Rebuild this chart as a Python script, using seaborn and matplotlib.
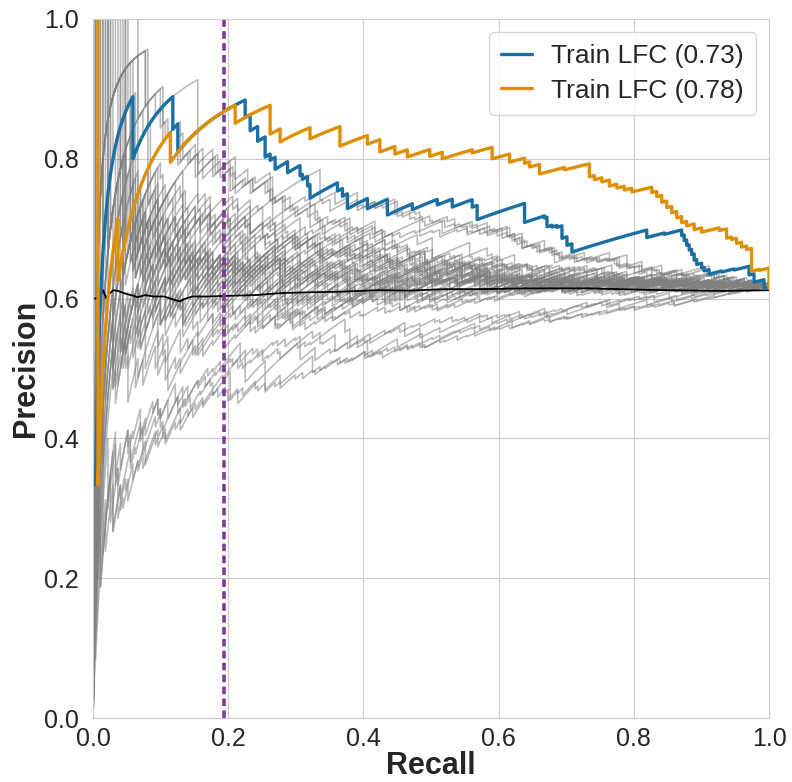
import numpy as np
import pandas as pd
import matplotlib
matplotlib.use("Agg")
import matplotlib.pyplot as plt
import seaborn as sns

sns.set_style("whitegrid")
plt.rcParams["font.family"] = ["Liberation Sans", "DejaVu Sans"]

# ---------------- data ----------------
N_POSITIVES = 271
N_ITEMS = 440

MODEL_LABELS = ["Train LFC (0.73)", "Train LFC (0.78)"]
MODEL_COLORS = ["#1b6fa3", "#de8f05"]

BLUE_RUNS = [(0, 2), (16, 2), (16, 2), (2, 2), (27, 2), (2, 2), (3, 2), (3, 3), (2, 1), (2, 2),
             (5, 2), (5, 2), (1, 1), (2, 2), (1, 3), (11, 2), (2, 2), (2, 4), (8, 3), (8, 5),
             (10, 2), (10, 2), (6, 3), (8, 3), (2, 6), (19, 9), (8, 1), (1, 5), (2, 1), (2, 1),
             (2, 7), (2, 5), (2, 5), (30, 5), (7, 1), (7, 4), (1, 4), (1, 4), (1, 4), (1, 4),
             (1, 5), (1, 4), (2, 4), (1, 3), (2, 4), (5, 1), (5, 1), (6, 8), (2, 8), (4, 9), (2, 1)]
ORANGE_RUNS = [(2, 4), (8, 2), (21, 2), (26, 2), (14, 4), (4, 2), (12, 2), (12, 4), (11, 2), (5, 3),
               (6, 2), (5, 2), (9, 2), (5, 2), (12, 1), (8, 4), (7, 3), (6, 2), (2, 2), (4, 4),
               (10, 1), (10, 6), (2, 2), (3, 2), (3, 3), (3, 2), (3, 2), (3, 2), (8, 3), (2, 3),
               (2, 4), (2, 4), (2, 4), (2, 4), (2, 4), (2, 3), (3, 4), (3, 3), (7, 2), (3, 7),
               (2, 2), (2, 4), (2, 4), (2, 3), (2, 20), (3, 1), (4, 20)]

# reference (random-ranking) curves: blocks of (hits, misses) runs
GRAY_SEGMENTS = {
    "N1": [(9, 4), (6, 7), (12, 5), (8, 6), (10, 6)],
    "N2": [(4, 3), (14, 8), (7, 4), (11, 6), (9, 7)],
    "N3": [(13, 6), (5, 5), (8, 3), (3, 6), (16, 8)],
    "N4": [(7, 5), (10, 4), (6, 9), (15, 6), (7, 4)],
    "N5": [(11, 8), (8, 2), (5, 6), (12, 7), (9, 5)],
    "N6": [(6, 4), (9, 6), (14, 5), (4, 8), (12, 5)],
    "N7": [(3, 2), (5, 1), (2, 3), (4, 2), (1, 1), (6, 2), (3, 3), (2, 1), (4, 2), (3, 3), (5, 2), (2, 1), (3, 3), (2, 2)],
    "N8": [(1, 2), (4, 1), (6, 3), (2, 2), (3, 1), (5, 4), (2, 1), (4, 2), (1, 3), (7, 2), (3, 2), (2, 1), (4, 3), (1, 1)],
    "N9": [(5, 3), (2, 1), (3, 2), (1, 2), (6, 1), (2, 3), (4, 2), (3, 1), (2, 4), (5, 2), (3, 1), (4, 3), (2, 2), (3, 1)],
    "N10": [(2, 1), (3, 3), (4, 1), (1, 2), (5, 2), (3, 2), (2, 3), (6, 1), (2, 2), (3, 3), (4, 1), (2, 2), (5, 3), (3, 2)],
    "R1": [(14, 4), (9, 5), (12, 3), (6, 6), (9, 4)],
    "R2": [(8, 3), (16, 6), (5, 4), (11, 5), (10, 4)],
    "R3": [(20, 7), (6, 3), (9, 5), (7, 2), (8, 5)],
    "R4": [(4, 1), (3, 2), (6, 1), (2, 2), (5, 1), (3, 3), (7, 1), (4, 2), (2, 1), (5, 2), (3, 1), (6, 5)],
    "R5": [(6, 2), (2, 1), (5, 3), (4, 1), (3, 2), (8, 2), (2, 1), (4, 3), (5, 1), (3, 2), (6, 2), (2, 2)],
    "P1": [(5, 8), (9, 6), (4, 9), (12, 5), (10, 6)],
    "P2": [(7, 10), (3, 5), (11, 7), (6, 4), (13, 8)],
    "P3": [(10, 6), (2, 9), (8, 5), (14, 8), (6, 6)],
    "P4": [(2, 3), (3, 2), (1, 4), (4, 2), (2, 3), (5, 3), (1, 2), (3, 4), (4, 2), (2, 3), (6, 2), (3, 3), (4, 1)],
    "P5": [(3, 4), (1, 2), (4, 3), (2, 1), (3, 5), (5, 2), (2, 3), (1, 2), (6, 4), (3, 2), (2, 3), (4, 1), (4, 2)],
}
# each curve: opening runs, block names (suffix "r" = block read backwards), closing runs
GRAY_CURVES = [
    ([(18, 3), (4, 5)], ["R4", "N8", "P1", "N5", "N9"], [(3, 2), (4, 3), (2, 2), (5, 3), (3, 4), (4, 2), (3, 5)]),
    ([(14, 2), (3, 6)], ["N10", "R2", "N7r", "P5", "N6"], [(5, 3), (3, 2), (6, 4), (2, 3), (4, 2), (5, 3), (4, 4)]),
    ([(13, 3), (5, 4)], ["N9", "P3", "R5", "N2", "N10"], [(4, 3), (6, 2), (2, 4), (5, 3), (3, 2), (4, 5), (4, 3)]),
    ([(11, 2), (2, 5)], ["R4", "N3", "N7", "P4", "N1"], [(6, 3), (4, 2), (5, 4), (3, 2), (7, 3), (2, 3), (6, 5)]),
    ([(10, 4), (6, 3)], ["N8", "N6r", "R1", "N10", "P5"], [(3, 2), (5, 4), (4, 3), (6, 2), (2, 3), (5, 4), (5, 4)]),
    ([(8, 2), (7, 5)], ["P4", "R3", "N9", "N3", "N8"], [(5, 2), (3, 4), (6, 3), (4, 2), (2, 3), (7, 4), (4, 4)]),
    ([(6, 3), (9, 4)], ["N7", "N1", "P5", "R5", "N6"], [(4, 3), (6, 2), (3, 4), (5, 3), (4, 2), (6, 4), (3, 4)]),
    ([(4, 1), (11, 6)], ["N10", "R4", "N4", "N9", "P1"], [(2, 2), (7, 3), (4, 4), (5, 2), (3, 3), (6, 4), (4, 4)]),
    ([(4, 3), (8, 4)], ["N9r", "N6", "R5", "P3", "N7"], [(6, 2), (4, 3), (5, 4), (7, 3), (3, 2), (5, 4), (4, 4)]),
    ([(3, 1), (10, 5)], ["R4", "R2", "P5", "P4", "N8"], [(5, 3), (4, 4), (6, 2), (3, 3), (7, 4), (4, 3), (4, 4)]),
    ([(2, 2), (9, 3)], ["N10", "N5r", "N8", "N2r", "N7"], [(6, 4), (5, 3), (4, 2), (7, 4), (3, 3), (6, 4), (4, 4)]),
    ([(1, 2), (12, 4)], ["R5", "N9", "P1", "N5", "N10"], [(4, 2), (6, 4), (5, 3), (3, 3), (7, 4), (5, 3), (3, 4)]),
    ([(2, 5), (6, 3)], ["N7", "N3", "R4", "P2", "N8"], [(7, 3), (5, 2), (6, 4), (4, 2), (8, 3), (5, 3), (3, 4)]),
    ([(0, 1), (7, 2), (5, 4)], ["N9", "P4", "N4r", "R1", "N10"], [(5, 3), (6, 2), (4, 4), (7, 3), (3, 3), (5, 3), (4, 4)]),
    ([(0, 2), (9, 4)], ["R5", "N7", "N6", "P5", "N3"], [(6, 3), (7, 4), (4, 2), (5, 3), (8, 4), (3, 3), (4, 4)]),
    ([(0, 3), (4, 4), (8, 2)], ["N8", "R3", "N9", "P4", "N6"], [(5, 2), (7, 3), (4, 4), (6, 2), (3, 3), (5, 2), (4, 4)]),
    ([(0, 1), (2, 3), (6, 2)], ["P5", "N10", "R4", "N3r", "N7"], [(6, 4), (8, 3), (5, 3), (4, 2), (7, 4), (5, 3), (3, 4)]),
    ([(0, 4), (5, 2), (7, 5)], ["R5", "N8", "N1", "N9", "P3"], [(7, 2), (5, 3), (6, 2), (4, 3), (5, 2), (4, 2), (3, 4)]),
    ([(0, 2), (1, 3), (10, 2)], ["N10", "P4", "R2", "N6r", "N7"], [(4, 3), (8, 4), (5, 2), (6, 3), (3, 3), (5, 3), (4, 4)]),
    ([(0, 6), (8, 3)], ["N8", "N5", "R4", "N9", "P1"], [(7, 3), (6, 2), (5, 3), (8, 4), (4, 2), (5, 2), (3, 4)]),
    ([(0, 1), (3, 5), (6, 4)], ["N10", "R5", "P5", "N3", "N7r"], [(8, 3), (5, 2), (6, 3), (4, 2), (7, 3), (4, 2), (3, 4)]),
    ([(0, 3), (2, 4), (9, 3)], ["R4", "N8", "N9", "P2", "N10"], [(6, 2), (7, 3), (5, 3), (4, 2), (6, 3), (4, 2), (3, 4)]),
    ([(0, 7), (3, 6), (5, 9)], ["P4", "P2", "N7", "R3", "R5"], [(9, 1), (7, 2), (8, 1), (6, 1), (8, 2)]),
    ([(0, 5), (4, 8), (3, 5)], ["P5", "N8", "P1", "R4", "R2"], [(8, 2), (6, 1), (9, 3), (7, 2), (9, 3)]),
    ([(1, 6), (2, 7), (6, 4)], ["P4", "P3", "R5", "N9", "R1"], [(7, 2), (8, 3), (6, 1), (9, 3), (7, 3)]),
    ([(0, 9), (6, 5)], ["P5", "N10", "P3", "R2", "R4"], [(9, 3), (7, 2), (8, 4), (6, 2), (10, 4)]),
    ([(9, 1), (12, 2)], ["R4", "R3", "N7", "P5", "P1"], [(3, 4), (4, 3), (2, 5), (5, 3), (3, 4), (4, 3), (4, 4)]),
    ([(12, 1), (10, 2)], ["R5", "N8r", "R1", "P4", "P2"], [(2, 4), (4, 3), (3, 5), (5, 4), (3, 3), (4, 3), (3, 4)]),
    ([(7, 1), (9, 2), (6, 1)], ["R3", "R4", "N9", "P1", "P5"], [(4, 3), (2, 4), (5, 3), (3, 5), (4, 3), (3, 3), (3, 4)]),
    ([(3, 1), (15, 2)], ["N10", "R5", "N4", "P4", "N7"], [(5, 4), (3, 3), (4, 5), (6, 3), (2, 4), (5, 3), (3, 4)]),
    ([(5, 3), (8, 2)], ["N8", "N9", "N1r", "N10", "N7r"], [(5, 3), (6, 4), (4, 3), (7, 4), (3, 3), (5, 3), (3, 4)]),
    ([(0, 1), (12, 3)], ["N9r", "P5", "N6", "R4", "N8"], [(6, 4), (5, 3), (7, 4), (4, 3), (5, 4), (4, 3), (3, 4)]),
    ([(2, 1), (9, 2), (5, 3), (6, 2)], ["N7", "R1", "N9r", "P2", "N10r"], [(3, 5), (4, 2), (3, 4), (5, 3), (2, 2), (4, 3), (3, 2)]),
    ([(0, 2), (6, 1), (4, 3), (7, 2)], ["N8r", "P1", "N1", "R4", "N9"], [(4, 4), (5, 3), (4, 2), (2, 3), (6, 4), (3, 2), (5, 3)]),
    ([(5, 1), (1, 3), (8, 1), (4, 2)], ["R2", "N10", "P4", "N7r", "N5"], [(4, 3), (4, 5), (3, 2), (5, 3), (2, 4), (6, 2), (4, 3)]),
    ([(1, 1), (3, 2), (9, 4)], ["N9", "N2", "R5", "N8", "P3"], [(6, 5), (2, 3), (7, 3), (3, 2), (5, 4), (4, 2), (6, 3)]),
    ([(7, 3), (2, 2), (7, 2)], ["P5", "N7", "R3", "N10r", "N4"], [(5, 4), (5, 4), (2, 3), (6, 2), (4, 3), (5, 4), (3, 2)]),
    ([(0, 3), (5, 1), (7, 3)], ["N3", "R4", "N8", "P4", "N6r"], [(4, 4), (5, 4), (3, 2), (7, 3), (5, 4), (4, 3), (6, 2)]),
    ([(13, 6)], ["R5", "N9", "P2", "N7", "N2"], [(4, 4), (4, 3), (7, 4), (3, 3), (6, 2), (4, 4), (5, 3)]),
    ([(0, 1), (4, 1), (7, 3)], ["N10", "P1", "R4", "N3r", "N8"], [(4, 4), (6, 4), (3, 3), (7, 4), (4, 2), (5, 3), (6, 4)]),
    ([(1, 1), (1, 2), (11, 3)], ["N7", "N8", "N9", "N10", "N1"], [(3, 4), (5, 3), (7, 4), (3, 3), (5, 3), (6, 4), (4, 2)]),
    ([(0, 4), (3, 1), (5, 3)], ["P4", "R5", "N4", "N9r", "N7"], [(3, 4), (5, 3), (8, 3), (4, 2), (6, 4), (5, 2), (7, 3)]),
    ([(6, 3), (2, 2), (4, 2)], ["R2", "P5", "N8", "N6", "N10r"], [(4, 4), (5, 3), (3, 3), (7, 3), (4, 4), (6, 2), (5, 3)]),
    ([(0, 5), (7, 1), (5, 3)], ["N7r", "N5", "P4", "R5", "N9"], [(4, 4), (5, 2), (3, 3), (6, 2), (4, 4), (7, 3), (5, 2)]),
    ([(0, 2), (2, 6), (10, 3)], ["P1", "N8", "R3", "N10", "N2"], [(3, 4), (4, 2), (5, 2), (4, 3), (6, 2), (5, 3), (7, 2)]),
    ([(0, 3), (1, 4), (7, 2)], ["N9", "P5", "N7", "R4", "N6"], [(3, 4), (5, 2), (4, 2), (8, 4), (5, 3), (6, 2), (7, 3)]),
    ([(6, 1), (15, 2)], ["R5", "N10", "R4", "P4", "P5"], [(4, 4), (4, 3), (3, 4), (5, 3), (2, 5), (4, 3), (3, 4)]),
    ([(0, 3), (1, 8), (4, 5), (3, 6)], ["P5", "P4", "N8", "R5", "R4"], [(8, 2), (6, 1), (8, 1), (7, 2), (9, 1)]),
]

# average random baseline (black line)
BASELINE_RECALL = [0.003, 0.008, 0.012, 0.015, 0.019, 0.024, 0.030, 0.037, 0.045, 0.052, 0.060,
                   0.066, 0.077, 0.090, 0.105, 0.121, 0.128, 0.137, 0.147, 0.170, 0.200, 0.240,
                   0.280, 0.320, 0.370, 0.420, 0.470, 0.520, 0.570, 0.640, 0.730, 0.830, 0.930, 1.000]
BASELINE_PRECISION = [0.600, 0.602, 0.606, 0.612, 0.601, 0.607, 0.612, 0.611, 0.608, 0.606, 0.604,
                      0.602, 0.605, 0.603, 0.603, 0.598, 0.596, 0.600, 0.603, 0.603, 0.604, 0.605,
                      0.608, 0.609, 0.610, 0.612, 0.6115, 0.6135, 0.6135, 0.6146, 0.6147, 0.6123, 0.611, 0.612]

CUTOFF_RECALL = 0.194
TICKS = [0.0, 0.2, 0.4, 0.6, 0.8, 1.0]


# ---------------- helpers ----------------
def labels_from_runs(runs):
    out = []
    for hits, misses in runs:
        out += [1] * hits + [0] * misses
    return out


def gray_runs(opening, blocks, closing):
    runs = list(opening)
    for name in blocks:
        seg = GRAY_SEGMENTS[name.rstrip("r")]
        runs += seg[::-1] if name.endswith("r") else seg
    return runs + list(closing)


def pr_curve(labels):
    y = np.asarray(labels, dtype=float)
    tp = np.cumsum(y)
    k = np.arange(1, y.size + 1)
    return tp / tp[-1], tp / k, tp


gray_frames = []
for i, (opening, blocks, closing) in enumerate(GRAY_CURVES):
    r, p, _ = pr_curve(labels_from_runs(gray_runs(opening, blocks, closing)))
    gray_frames.append(pd.DataFrame({"recall": r, "precision": p, "curve": i}))
gray_df = pd.concat(gray_frames, ignore_index=True)

model_frames = []
for label, runs in zip(MODEL_LABELS, [BLUE_RUNS, ORANGE_RUNS]):
    r, p, tp = pr_curve(labels_from_runs(runs))
    keep = tp > 0
    model_frames.append(pd.DataFrame({"recall": r[keep], "precision": p[keep], "model": label}))
model_df = pd.concat(model_frames, ignore_index=True)

# ---------------- plot ----------------
fig = plt.figure(figsize=(7.92, 7.82), dpi=100)
ax = fig.add_axes([93 / 792, 1 - 718 / 782, 676 / 792, 699 / 782])

sns.lineplot(data=gray_df, x="recall", y="precision", units="curve", estimator=None,
             sort=False, color="gray", alpha=0.55, linewidth=1.15, legend=False, ax=ax)
sns.lineplot(x=BASELINE_RECALL, y=BASELINE_PRECISION, color="black", linewidth=1.3,
             estimator=None, sort=False, legend=False, ax=ax)
ax.axvline(CUTOFF_RECALL, color="#7d3c98", linestyle=(0, (2.1, 1.2)), linewidth=2.6)
sns.lineplot(data=model_df, x="recall", y="precision", hue="model", hue_order=MODEL_LABELS,
             palette=MODEL_COLORS, estimator=None, sort=False, linewidth=2.4, ax=ax)

handles, labels = ax.get_legend_handles_labels()
keep = [(h, l) for h, l in zip(handles, labels) if l in MODEL_LABELS]
leg = ax.legend([h for h, _ in keep], [l for _, l in keep], loc="upper right", fontsize=19,
                handlelength=1.15, handletextpad=0.75, labelspacing=0.4, borderpad=0.45,
                frameon=True)
for line in leg.get_lines():
    line.set_linewidth(2.4)

ax.set_xlim(0, 1)
ax.set_ylim(0, 1)
ax.set_xticks(TICKS)
ax.set_yticks(TICKS)
ax.set_xticklabels([f"{t:.1f}" for t in TICKS])
ax.set_yticklabels([f"{t:.1f}" for t in TICKS])
ax.tick_params(axis="both", labelsize=18, colors="#262626")
ax.tick_params(axis="y", pad=7)
ax.tick_params(axis="x", pad=3)
ax.set_xlabel("Recall", fontsize=22, fontweight="bold", color="#262626", labelpad=0)
ax.set_ylabel("Precision", fontsize=22, fontweight="bold", color="#262626", labelpad=2)

fig.savefig("out.png", dpi=100)
